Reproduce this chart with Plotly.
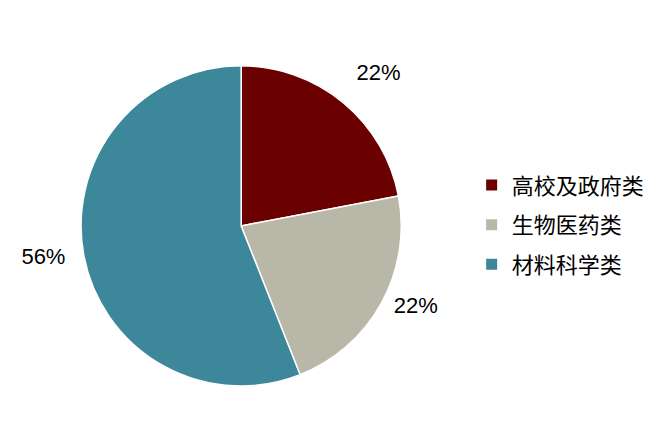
import plotly.graph_objects as go

labels = ["高校及政府类", "生物医药类", "材料科学类"]
values = [22, 22, 56]
colors = ["#6B0000", "#B9B8A8", "#3D879A"]

# padding so the outside labels sit a bit further from the pie, like the original
nb = "\u00a0"
templates = [
    "%{percent:.0%}<br>" + nb,
    nb + "%{percent:.0%}",
    "%{percent:.0%}" + nb * 2,
]

fig = go.Figure()
fig.add_trace(go.Pie(
    labels=labels,
    values=values,
    sort=False,
    direction="clockwise",
    rotation=0,
    marker=dict(colors=colors, line=dict(color="white", width=1.5)),
    texttemplate=templates,
    textposition="outside",
    outsidetextfont=dict(size=22, color="black", family="Liberation Sans, Arial"),
    domain=dict(x=[0.109, 0.587], y=[0.137, 0.868]),
    showlegend=False,
))

# legend entries as separate groups so they can be spaced apart
for name, col in zip(labels, colors):
    fig.add_trace(go.Scatter(
        x=[None], y=[None], mode="markers", name=name, legendgroup=name,
        marker=dict(symbol="square", size=11, color=col),
    ))

fig.update_layout(
    width=670,
    height=438,
    margin=dict(l=0, r=0, t=0, b=0),
    paper_bgcolor="white",
    plot_bgcolor="white",
    xaxis=dict(visible=False),
    yaxis=dict(visible=False),
    font=dict(family="Liberation Sans, Noto Sans CJK SC, sans-serif", color="black"),
    legend=dict(
        x=0.692,
        y=0.505,
        xanchor="left",
        yanchor="middle",
        font=dict(size=22, family="Noto Sans CJK SC, sans-serif", color="black"),
        itemwidth=30,
        tracegroupgap=8,
    ),
)

fig.write_html("out.html")
